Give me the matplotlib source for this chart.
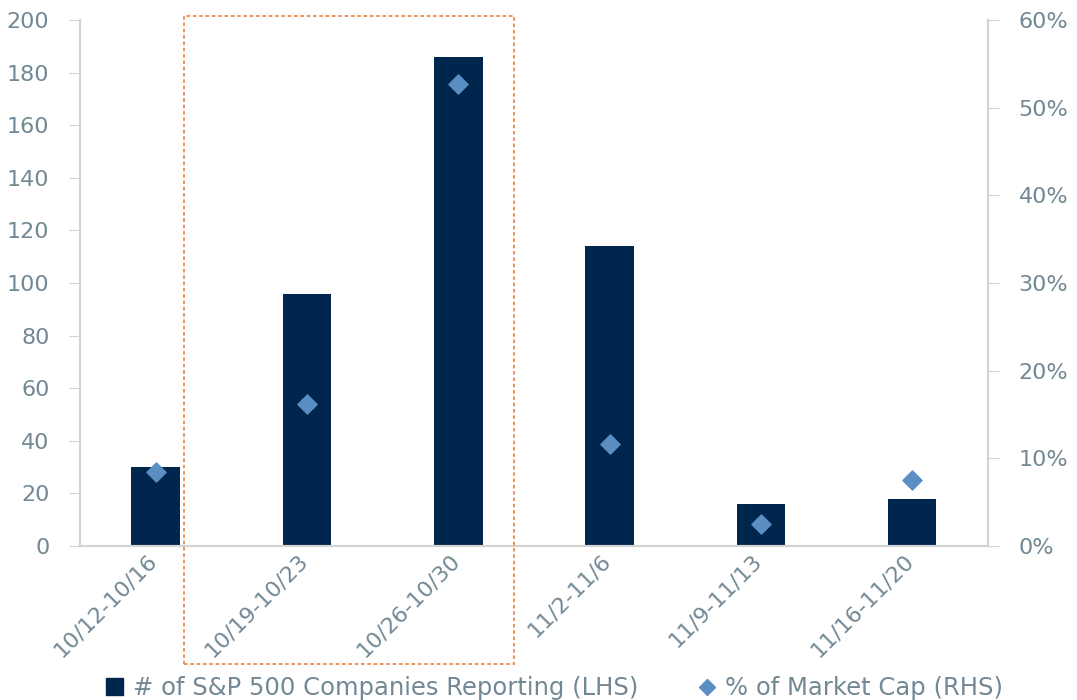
import matplotlib.pyplot as plt
import matplotlib.transforms as mtransforms
from matplotlib.patches import Rectangle
from matplotlib.lines import Line2D
from matplotlib.patches import Patch
import numpy as np

weeks = ['10/12-10/16', '10/19-10/23', '10/26-10/30', '11/2-11/6', '11/9-11/13', '11/16-11/20']
companies = [30, 96, 186, 114, 16, 18]
mkt_cap_pct = [8.4, 16.2, 52.7, 11.6, 2.5, 7.5]

plt.rcParams['font.family'] = ['DejaVu Sans']
txt = '#728894'
grid_c = '#d4d4d4'

fig = plt.figure(figsize=(10.77, 7), dpi=100)
ax = fig.add_axes([0.0743, 0.22, 0.843, 0.7514])
ax2 = ax.twinx()

x = np.arange(len(weeks))
ax.bar(x, companies, width=0.32, color='#00264d', zorder=2)
ax2.scatter(x, mkt_cap_pct, marker='D', s=95, color='#5b8fc4', zorder=3)

ax.set_xlim(-0.5, 5.5)
ax.set_ylim(0, 200)
ax.set_yticks(range(0, 201, 20))
ax2.set_ylim(0, 60)
ax2.set_yticks(range(0, 61, 10))
ax2.set_yticklabels([f'{v}%' for v in range(0, 61, 10)])

ax.set_xticks(x)
ax.set_xticklabels(weeks, rotation=45, ha='right', rotation_mode='anchor')
ax.tick_params(axis='x', length=0, pad=3, labelsize=16, labelcolor=txt)
ax.tick_params(axis='y', length=8, color=grid_c, labelsize=16, labelcolor=txt, pad=14)
ax2.tick_params(axis='y', length=8, color=grid_c, labelsize=16, labelcolor=txt, pad=14)

# nudge rotated labels a little to the left
shift = mtransforms.ScaledTranslation(-0.09, 0, fig.dpi_scale_trans)
for lbl in ax.get_xticklabels():
    lbl.set_transform(lbl.get_transform() + shift)

for a in (ax, ax2):
    a.spines['top'].set_visible(False)
    for s in ('left', 'right', 'bottom'):
        a.spines[s].set_color(grid_c)
        a.spines[s].set_linewidth(1.5)

# highlight box around weeks 2-3
fig.patches.append(Rectangle((184 / 1077, 1 - 664 / 700), 330 / 1077, 648 / 700,
                             transform=fig.transFigure, fill=False,
                             edgecolor='#ee8a4a', linestyle=(0, (2, 1.5)), linewidth=1.3))

handles = [Patch(color='#00264d'),
           Line2D([], [], marker='D', linestyle='none', color='#5b8fc4', markersize=8)]
fig.legend(handles, ['# of S&P 500 Companies Reporting (LHS)', '% of Market Cap (RHS)'],
           loc='center', bbox_to_anchor=(0.515, 0.017), ncol=2, frameon=False,
           fontsize=17.5, labelcolor=txt, handlelength=0.7, handletextpad=0.4, columnspacing=2.5)

fig.savefig('out.png', dpi=100)
